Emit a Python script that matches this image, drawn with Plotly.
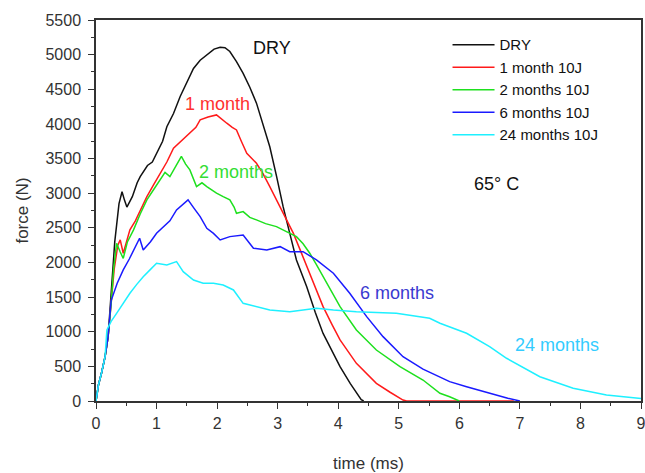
import plotly.graph_objects as go

# ---- data ----
dry_t = [0, 0.04, 0.09, 0.15, 0.2, 0.25, 0.31, 0.38, 0.43, 0.47, 0.51, 0.6, 0.68, 0.73, 0.85, 0.93, 1.0, 1.1, 1.17, 1.28, 1.39, 1.5, 1.61, 1.72, 1.83, 1.95, 2.05, 2.13, 2.21, 2.32, 2.43, 2.54, 2.65, 2.76, 2.87, 2.98, 3.09, 3.2, 3.31, 3.48, 3.62, 3.75, 3.9, 4.03, 4.2, 4.38, 4.42]
dry_f = [0, 230, 400, 640, 930, 1500, 2300, 2850, 3020, 2900, 2800, 2950, 3150, 3240, 3400, 3450, 3575, 3750, 3960, 4150, 4395, 4600, 4800, 4920, 4995, 5080, 5107, 5100, 5045, 4900, 4730, 4530, 4300, 4000, 3670, 3250, 2805, 2420, 2036, 1650, 1280, 976, 720, 495, 250, 20, 0]

m1_t = [0, 0.04, 0.09, 0.15, 0.2, 0.25, 0.3, 0.36, 0.40, 0.45, 0.5, 0.56, 0.65, 0.73, 0.84, 0.95, 1.06, 1.17, 1.28, 1.4, 1.55, 1.65, 1.72, 1.85, 1.99, 2.08, 2.16, 2.25, 2.32, 2.4, 2.49, 2.65, 2.76, 2.87, 2.98, 3.09, 3.26, 3.4, 3.53, 3.64, 3.75, 3.9, 4.03, 4.3, 4.63, 4.85, 5.07, 5.13, 5.5, 6.0, 6.5, 6.9]
m1_f = [0, 230, 400, 640, 930, 1400, 1900, 2250, 2325, 2133, 2300, 2470, 2600, 2758, 2950, 3120, 3288, 3450, 3650, 3750, 3866, 3950, 4058, 4100, 4130, 4060, 4010, 3950, 3913, 3750, 3577, 3432, 3280, 3095, 2900, 2710, 2420, 2120, 1844, 1600, 1362, 1100, 881, 544, 255, 130, 14, 0, 0, 0, 0, 0]

m2_t = [0, 0.04, 0.09, 0.15, 0.2, 0.25, 0.29, 0.34, 0.40, 0.45, 0.52, 0.62, 0.73, 0.84, 0.95, 1.06, 1.14, 1.22, 1.32, 1.41, 1.48, 1.55, 1.66, 1.75, 1.83, 1.99, 2.1, 2.21, 2.28, 2.32, 2.43, 2.54, 2.65, 2.8, 2.98, 3.2, 3.31, 3.42, 3.53, 3.64, 3.75, 3.9, 4.03, 4.3, 4.63, 5.02, 5.4, 5.68, 5.84, 6.0]
m2_f = [0, 230, 400, 640, 930, 1400, 1900, 2277, 2150, 2060, 2300, 2470, 2700, 2903, 3050, 3200, 3300, 3240, 3400, 3530, 3420, 3336, 3095, 3150, 3095, 3000, 2950, 2903, 2800, 2710, 2734, 2650, 2614, 2560, 2517, 2421, 2373, 2270, 2133, 1970, 1795, 1560, 1362, 1025, 736, 495, 303, 111, 62, 0]

m6_t = [0, 0.04, 0.09, 0.15, 0.2, 0.25, 0.35, 0.45, 0.55, 0.67, 0.72, 0.78, 0.9, 1.0, 1.11, 1.22, 1.33, 1.45, 1.52, 1.62, 1.72, 1.83, 1.94, 2.05, 2.21, 2.43, 2.52, 2.6, 2.82, 3.04, 3.2, 3.42, 3.64, 3.92, 4.19, 4.47, 4.74, 5.07, 5.4, 5.68, 5.84, 6.12, 6.5, 6.8, 7.0]
m6_f = [0, 230, 400, 640, 930, 1450, 1700, 1892, 2050, 2277, 2350, 2180, 2300, 2421, 2517, 2600, 2758, 2850, 2903, 2780, 2661, 2493, 2420, 2325, 2373, 2397, 2300, 2205, 2180, 2228, 2156, 2156, 2036, 1844, 1555, 1218, 929, 640, 460, 340, 279, 206, 111, 40, 0]

m24_t = [0, 0.04, 0.09, 0.15, 0.18, 0.25, 0.34, 0.45, 0.56, 0.67, 0.78, 0.9, 1.0, 1.17, 1.33, 1.44, 1.61, 1.77, 1.94, 2.1, 2.27, 2.43, 2.65, 2.87, 3.2, 3.64, 3.92, 4.3, 4.96, 5.51, 5.68, 5.84, 6.12, 6.5, 6.78, 7.33, 7.88, 8.43, 8.98, 9.0]
m24_f = [0, 230, 400, 640, 1025, 1150, 1266, 1420, 1555, 1680, 1795, 1900, 1988, 1964, 2012, 1867, 1747, 1699, 1699, 1675, 1603, 1410, 1362, 1314, 1290, 1338, 1314, 1290, 1266, 1194, 1122, 1073, 978, 784, 617, 351, 183, 87, 39, 35]

series_names = ["DRY", "1 month 10J", "2 months 10J", "6 months 10J", "24 months 10J"]
series_t = [dry_t, m1_t, m2_t, m6_t, m24_t]
series_f = [dry_f, m1_f, m2_f, m6_f, m24_f]
series_colors = ["#111111", "#ff1a1a", "#1ee01e", "#1a1aff", "#1ef0ff"]

label_texts = ["DRY", "1 month", "2 months", "6 months", "24 months", "65° C"]
label_x = [2.9, 2.01, 2.32, 4.97, 7.62, 6.62]
label_y = [5098, 4290, 3307, 1560, 809, 3134]
label_colors = ["#111111", "#ff3030", "#33dd33", "#3a3ad0", "#33ccff", "#111111"]

x_ticks = list(range(0, 10))
y_ticks = list(range(0, 5501, 500))

FONT = "Liberation Sans, Arial, sans-serif"

fig = go.Figure()
for name, t, f, c in zip(series_names, series_t, series_f, series_colors):
    fig.add_trace(go.Scatter(x=t, y=f, mode="lines", name=name,
                             line=dict(color=c, width=1.5)))

for txt, x, y, c in zip(label_texts, label_x, label_y, label_colors):
    fig.add_annotation(x=x, y=y, text=txt, showarrow=False,
                       font=dict(family=FONT, size=18, color=c))

axis_common = dict(
    showgrid=False, zeroline=False, showline=True, linecolor="#333333",
    linewidth=1.5, mirror=True, ticks="outside", ticklen=6, tickwidth=1.3,
    tickcolor="#333333", tickfont=dict(family=FONT, size=16, color="#333333"),
    automargin=False, ticklabeloverflow="allow",
)

fig.update_xaxes(range=[0, 9], tickvals=x_ticks, ticklabelstandoff=1,
                 minor=dict(dtick=0.5, ticklen=3, tickcolor="#333333", ticks="outside"),
                 title=dict(text="time (ms)", font=dict(family=FONT, size=17, color="#333333"), standoff=26),
                 **axis_common)
fig.update_yaxes(range=[0, 5500], tickvals=y_ticks, ticklabelstandoff=4,
                 minor=dict(dtick=250, ticklen=3, tickcolor="#333333", ticks="outside"),
                 title=dict(text="force (N)", font=dict(family=FONT, size=17, color="#333333"), standoff=13),
                 **axis_common)

fig.update_layout(
    width=645, height=473,
    margin=dict(l=96, r=4, t=20, b=72),
    paper_bgcolor="white", plot_bgcolor="white",
    font=dict(family=FONT, color="#111111"),
    legend=dict(x=0.645, y=0.978, xanchor="left", yanchor="top",
                bgcolor="rgba(0,0,0,0)", font=dict(family=FONT, size=15, color="#111111"),
                itemwidth=42, tracegroupgap=0),
)

# remove the default page margin so the figure sits at the window's top-left corner
fig.write_html("out.html", config={"displayModeBar": False},
               post_script="document.body.style.margin='0';document.body.style.overflow='hidden';")
